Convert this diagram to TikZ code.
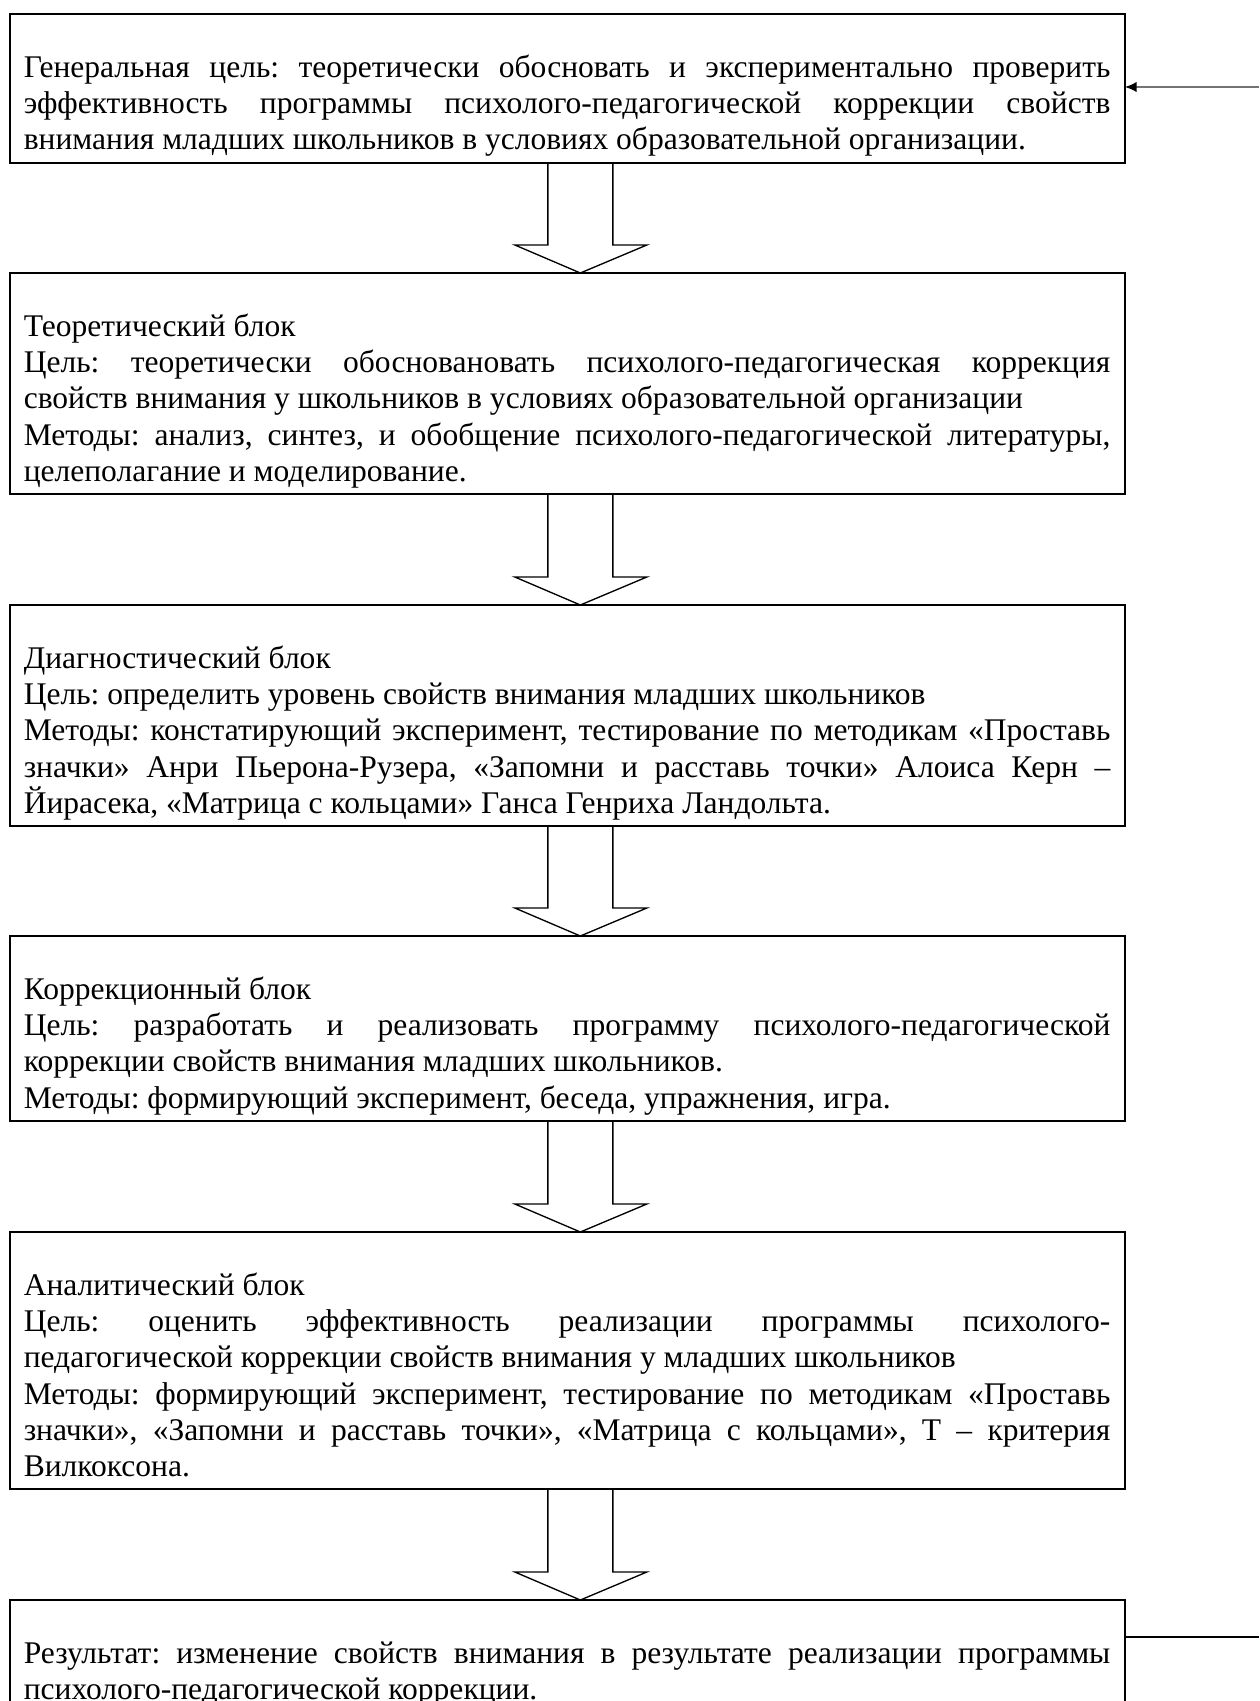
\documentclass[tikz,border=0pt]{standalone}
\usepackage{fontspec}
\setmainfont{Liberation Serif}
\usetikzlibrary{arrows.meta,calc}
\setlength{\parindent}{0pt}
\tolerance=10000
\hyphenpenalty=10000
\frenchspacing

\tikzset{
  blok/.style={draw, line width=1.5pt, outer sep=0pt, anchor=north west,
    text width=815pt, inner xsep=10.7pt, inner ysep=1.4pt, align=justify,
    font=\fontsize{23.65}{27.15}\selectfont},
  strelka/.style={line width=1pt, line join=miter},
}

\begin{document}
\begin{tikzpicture}[x=0.75pt,y=0.75pt,yscale=-1,xscale=1]
%set diagram left start at 0, and has height of 1701
\useasboundingbox (0,0) rectangle (1259,1701);

%Shape: Rectangle [general goal]
\node[blok] (gen) at (9.5,14) {\strut\\
Генеральная цель: теоретически обосновать и экспериментально проверить\linebreak
эффективность программы психолого-педагогической коррекции свойств\linebreak
внимания младших школьников в условиях образовательной организации.\strut};

%Shape: Rectangle [theory]
\node[blok] (theo) at (9.5,273) {\strut\\
Теоретический блок\\
Цель: теоретически обосновановать психолого-педагогическая коррекция\linebreak
свойств внимания у школьников в условиях образовательной организации\\
Методы: анализ, синтез, и обобщение психолого-педагогической литературы,\linebreak
целеполагание и моделирование.\strut};

%Shape: Rectangle [diagnostics]
\node[blok] (diag) at (9.5,605) {\strut\\
Диагностический блок\\
Цель: определить уровень свойств внимания младших школьников\\
Методы: констатирующий эксперимент, тестирование по методикам «Проставь\linebreak
значки» Анри Пьерона-Рузера, «Запомни и расставь точки» Алоиса Керн –\linebreak
Йирасека, «Матрица с кольцами» Ганса Генриха Ландольта.\strut};

%Shape: Rectangle [correction]
\node[blok] (corr) at (9.5,936) {\strut\\
Коррекционный блок\\
Цель: разработать и реализовать программу психолого-педагогической\linebreak
коррекции свойств внимания младших школьников.\\
Методы: формирующий эксперимент, беседа, упражнения, игра.\strut};

%Shape: Rectangle [analysis]
\node[blok] (anal) at (9.5,1232) {\strut\\
Аналитический блок\\
Цель: оценить эффективность реализации программы психолого-\linebreak
педагогической коррекции свойств внимания у младших школьников\\
Методы: формирующий эксперимент, тестирование по методикам «Проставь\linebreak
значки», «Запомни и расставь точки», «Матрица с кольцами», Т – критерия\linebreak
Вилкоксона.\strut};

%Shape: Rectangle [result]
\node[blok] (res) at (9.5,1600) {\strut\\
Результат: изменение свойств внимания в результате реализации программы\linebreak
психолого-педагогической коррекции.\strut};

%Shape: Down Arrow
\foreach \a/\b in {gen/theo, theo/diag, diag/corr, corr/anal, anal/res}{
  \draw[strelka] ($(\a.south)+(-19.25,0)$) -- ($(\b.north)+(-19.25,-28)$)
    -- ($(\b.north)+(-52.25,-28)$) -- ($(\b.north)+(13.25,0)$)
    -- ($(\b.north)+(79.75,-28)$) -- ($(\b.north)+(45.75,-28)$)
    -- ($(\a.south)+(45.75,0)$);
}

%Straight Lines [feedback in]
\coordinate (fbtop) at (1259,87);
\draw[line width=2.2pt, black!55, -{Latex[length=9pt,width=8pt,black]}] (fbtop) -- (fbtop -| gen.east);
%Straight Lines [feedback out]
\coordinate (fbbot) at (1259,1637);
\draw[line width=1.2pt] (res.east |- fbbot) -- (fbbot);

\end{tikzpicture}
\end{document}
